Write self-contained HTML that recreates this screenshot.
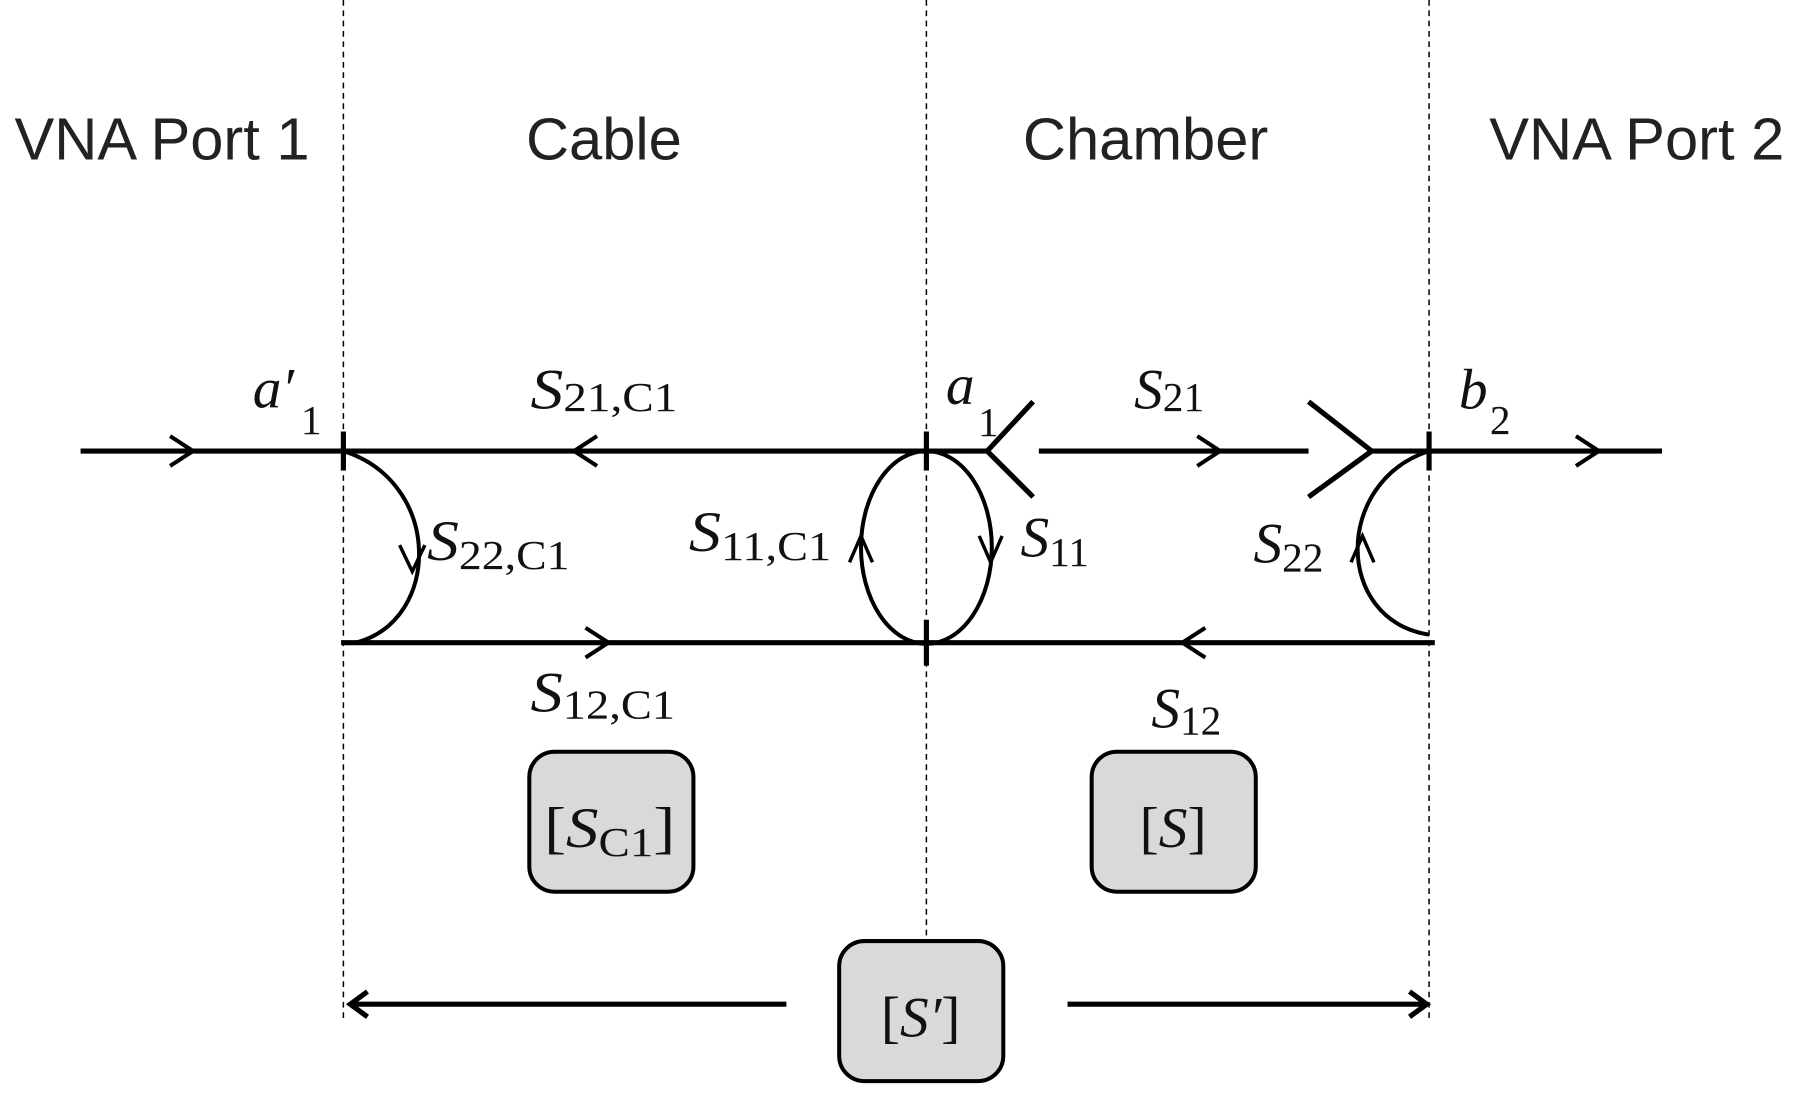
<!DOCTYPE html>
<html><head><meta charset="utf-8"><style>
html,body{margin:0;padding:0;background:#fff;}
svg{display:block;}
.t{font-family:"Liberation Sans",Arial,sans-serif;font-size:52px;fill:#222;}
.m{font-family:"Liberation Serif",serif;font-style:italic;font-size:50px;fill:#111;}
.s{font-style:normal;font-size:36px;}
</style></head><body>
<svg width="1800" height="1096" viewBox="0 0 1568 955" xmlns="http://www.w3.org/2000/svg">
<g stroke="#000" stroke-width="1.3" stroke-dasharray="5,4" fill="none">
<line x1="299" y1="0" x2="299" y2="890"/>
<line x1="807" y1="0" x2="807" y2="820"/>
<line x1="1245" y1="0" x2="1245" y2="890"/>
</g>
<text class="t" x="141" y="139" text-anchor="middle">VNA Port 1</text>
<text class="t" x="526" y="139" text-anchor="middle">Cable</text>
<text class="t" x="998" y="139" text-anchor="middle">Chamber</text>
<text class="t" x="1426" y="139" text-anchor="middle">VNA Port 2</text>
<g stroke="#000" stroke-width="4.5" fill="none" stroke-linecap="butt">
<line x1="70" y1="393" x2="860" y2="393"/>
<line x1="905" y1="393" x2="1140" y2="393"/>
<line x1="1195" y1="393" x2="1448" y2="393"/>
<line x1="297" y1="560" x2="1250" y2="560"/>
<polyline points="900,350 860,393 900,433"/>
<polyline points="1140,350 1195,393 1140,433"/>
<line x1="299" y1="376" x2="299" y2="410"/>
<line x1="807" y1="376" x2="807" y2="410"/>
<line x1="807" y1="540" x2="807" y2="580"/>
<line x1="1245" y1="376" x2="1245" y2="410"/>
<path d="M299 393 C 385 420, 385 540, 310 560" stroke-width="3.5"/>
<ellipse cx="807" cy="477" rx="57" ry="84" stroke-width="3.5"/>
<path d="M1245 393 C 1162 420, 1162 540, 1245 553" stroke-width="3.5"/>
<polyline points="148,380 168,393 148,406" stroke-width="3.5"/>
<polyline points="520,380 500,393 520,406" stroke-width="3.5"/>
<polyline points="1043,380 1063,393 1043,406" stroke-width="3.5"/>
<polyline points="1373,380 1393,393 1373,406" stroke-width="3.5"/>
<polyline points="510,547 530,560 510,573" stroke-width="3.5"/>
<polyline points="1050,547 1030,560 1050,573" stroke-width="3.5"/>
<polyline points="348,475 359,498 370,475" stroke-width="3"/>
<polyline points="740,490 750,467 760,490" stroke-width="3"/>
<polyline points="853,467 863,490 873,467" stroke-width="3"/>
<polyline points="1177,490 1187,467 1197,490" stroke-width="3"/>
<line x1="685" y1="875" x2="305" y2="875"/>
<line x1="930" y1="875" x2="1243" y2="875"/>
<polyline points="320,864 305,875 320,886"/>
<polyline points="1228,864 1243,875 1228,886"/>
</g>
<g fill="#d9d9d9" stroke="#000" stroke-width="3.5">
<rect x="461" y="655" width="143" height="122" rx="22"/>
<rect x="951" y="655" width="143" height="122" rx="22"/>
<rect x="731" y="820" width="143" height="122" rx="22"/>
</g>
<text class="m" x="220" y="355">a′</text><text class="m s" x="262" y="378">1</text>
<text class="m" x="462" y="356" textLength="128" lengthAdjust="spacingAndGlyphs">S<tspan class="s" dy="2">21,C1</tspan></text>
<text class="m" x="824" y="352">a</text><text class="m s" x="852" y="380">1</text>
<text class="m" x="988" y="356">S<tspan class="s" dy="2">21</tspan></text>
<text class="m" x="1271" y="356">b</text><text class="m s" x="1298" y="378">2</text>
<text class="m" x="372" y="488" textLength="124" lengthAdjust="spacingAndGlyphs">S<tspan class="s" dy="8">22,C1</tspan></text>
<text class="m" x="600" y="480" textLength="124" lengthAdjust="spacingAndGlyphs">S<tspan class="s" dy="8">11,C1</tspan></text>
<text class="m" x="889" y="485">S<tspan class="s" dy="8">11</tspan></text>
<text class="m" x="1092" y="490">S<tspan class="s" dy="8">22</tspan></text>
<text class="m" x="462" y="620" textLength="126" lengthAdjust="spacingAndGlyphs">S<tspan class="s" dy="6">12,C1</tspan></text>
<text class="m" x="1003" y="634">S<tspan class="s" dy="6">12</tspan></text>
<text class="m" x="474" y="738" font-size="60" textLength="114" lengthAdjust="spacingAndGlyphs"><tspan font-style="normal">[</tspan>S<tspan class="s" font-size="42" dy="8">C1</tspan><tspan font-style="normal" dy="-8">]</tspan></text>
<text class="m" x="1022" y="738" font-size="60" text-anchor="middle"><tspan font-style="normal">[</tspan>S<tspan font-style="normal">]</tspan></text>
<text class="m" x="802" y="903" font-size="60" text-anchor="middle"><tspan font-style="normal">[</tspan>S′<tspan font-style="normal">]</tspan></text>
</svg>
</body></html>
